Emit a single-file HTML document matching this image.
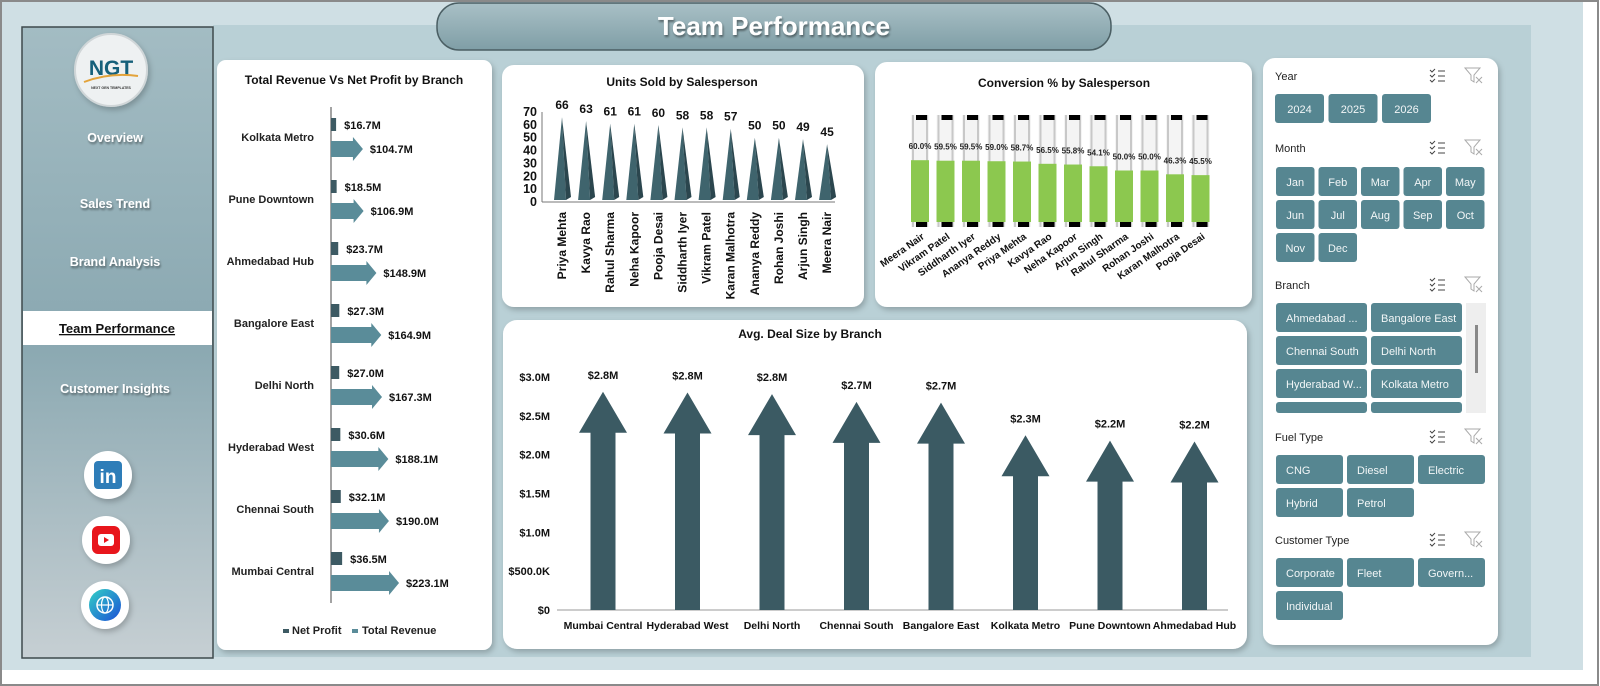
<!DOCTYPE html>
<html><head><meta charset="utf-8"><style>
html,body{margin:0;padding:0;width:1600px;height:686px;overflow:hidden;background:#fff}
svg{display:block;font-family:"Liberation Sans",sans-serif}
</style></head><body>
<svg id="root" width="1600" height="686" viewBox="0 0 1600 686" xmlns="http://www.w3.org/2000/svg">
<defs>
<filter id="sh" x="-10%" y="-10%" width="130%" height="130%"><feDropShadow dx="2" dy="3" stdDeviation="3" flood-color="#000" flood-opacity="0.22"/></filter>
<filter id="ts"><feDropShadow dx="1" dy="2" stdDeviation="1" flood-color="#000" flood-opacity="0.45"/></filter>
<linearGradient id="sb" x1="0" y1="0" x2="0" y2="1"><stop offset="0" stop-color="#a3bcc3"/><stop offset="0.5" stop-color="#8aa8b1"/><stop offset="1" stop-color="#c6cfd3"/></linearGradient>
<linearGradient id="tb" x1="0" y1="0" x2="0" y2="1"><stop offset="0" stop-color="#a9c0c6"/><stop offset="1" stop-color="#7f9ea6"/></linearGradient>
<linearGradient id="gl" x1="0" y1="0" x2="1" y2="1"><stop offset="0" stop-color="#33d1c6"/><stop offset="1" stop-color="#1b4fd6"/></linearGradient>
</defs>
<rect x="0" y="0" width="1600" height="686" fill="#fff"/>
<rect x="1" y="1" width="1597" height="684" fill="none" stroke="#8a8a8a" stroke-width="2"/>
<rect x="2" y="2" width="1581" height="668" fill="#cfdfe4"/>
<rect x="213" y="25" width="1318" height="632" fill="#b9d0d6"/>
<g>
<rect x="437" y="3" width="674" height="47" rx="22" fill="url(#tb)" stroke="#4b5f64" stroke-width="1.5"/>
<text x="774" y="35" text-anchor="middle" font-size="26" font-weight="bold" fill="#fff" filter="url(#ts)">Team Performance</text>
</g>
<g>
<rect x="22" y="27" width="191" height="631" fill="url(#sb)" stroke="#3f4a4d" stroke-width="1.5"/>
<g filter="url(#sh)">
<circle cx="111" cy="70" r="36" fill="#eef1f2" stroke="#d0d6d8" stroke-width="2"/>
<text x="111" y="75" text-anchor="middle" font-size="21" font-weight="bold" fill="#17607a">NGT</text>
<path d="M84 82 Q110 72 138 76" stroke="#e3a33b" stroke-width="2" fill="none"/>
<text x="111" y="89" text-anchor="middle" font-size="3.5" font-weight="bold" fill="#333">NEXT GEN TEMPLATES</text>
</g>
<text x="115" y="142" text-anchor="middle" font-size="12.5" font-weight="bold" fill="#fff" filter="url(#ts)">Overview</text>
<text x="115" y="208" text-anchor="middle" font-size="12.5" font-weight="bold" fill="#fff" filter="url(#ts)">Sales Trend</text>
<text x="115" y="266" text-anchor="middle" font-size="12.5" font-weight="bold" fill="#fff" filter="url(#ts)">Brand Analysis</text>
<rect x="23" y="311" width="189" height="34" fill="#fff"/>
<text x="117" y="333" text-anchor="middle" font-size="13" font-weight="bold" fill="#111" text-decoration="underline">Team Performance</text>
<text x="115" y="393" text-anchor="middle" font-size="12.5" font-weight="bold" fill="#fff" filter="url(#ts)">Customer Insights</text>
<g filter="url(#sh)"><circle cx="108" cy="475" r="24" fill="#fff"/><rect x="94" y="461" width="28" height="28" rx="4" fill="#2d7db8"/><text x="108" y="483" text-anchor="middle" font-size="19" font-weight="bold" fill="#fff">in</text></g>
<g filter="url(#sh)"><circle cx="106" cy="540" r="24" fill="#fff"/><rect x="92" y="526" width="28" height="28" rx="6" fill="#e8131b"/><rect x="98" y="534" width="16" height="12" rx="3" fill="#fff"/><path d="M104 537 L109 540 L104 543Z" fill="#e8131b"/></g>
<g filter="url(#sh)"><circle cx="105" cy="605" r="24" fill="#fff"/><circle cx="105" cy="605" r="16" fill="url(#gl)"/><circle cx="105" cy="605" r="8" fill="none" stroke="#fff" stroke-width="1.5"/><ellipse cx="105" cy="605" rx="3.5" ry="8" fill="none" stroke="#fff" stroke-width="1.2"/><line x1="97" y1="605" x2="113" y2="605" stroke="#fff" stroke-width="1.2"/></g>
</g>
<rect x="217" y="60" width="275" height="590" rx="9" fill="#fff" filter="url(#sh)"/>
<rect x="502" y="65" width="362" height="242" rx="12" fill="#fff" filter="url(#sh)"/>
<rect x="875" y="62" width="377" height="245" rx="12" fill="#fff" filter="url(#sh)"/>
<rect x="503" y="320" width="744" height="329" rx="14" fill="#fff" filter="url(#sh)"/>
<rect x="1263" y="58" width="235" height="587" rx="12" fill="#fff" filter="url(#sh)"/>
<text x="354" y="84" text-anchor="middle" font-size="12" font-weight="bold" fill="#111">Total Revenue Vs Net Profit by Branch</text>
<text x="682" y="86" text-anchor="middle" font-size="12" font-weight="bold" fill="#111">Units Sold by Salesperson</text>
<text x="1064" y="87" text-anchor="middle" font-size="12" font-weight="bold" fill="#111">Conversion % by Salesperson</text>
<text x="810" y="338" text-anchor="middle" font-size="12" font-weight="bold" fill="#111">Avg. Deal Size by Branch</text>
<g id="c1"></g><g id="c2"></g><g id="c3"></g><g id="c4"></g><g id="sl"></g>
</svg>
<script>
// Chart 1: Revenue vs Profit
const branches1 = ["Kolkata Metro","Pune Downtown","Ahmedabad Hub","Bangalore East","Delhi North","Hyderabad West","Chennai South","Mumbai Central"];
const netProfit = [16.7,18.5,23.7,27.3,27.0,30.6,32.1,36.5];
const totalRevenue = [104.7,106.9,148.9,164.9,167.3,188.1,190.0,223.1];
// Chart 2: Units sold
const people2 = ["Priya Mehta","Kavya Rao","Rahul Sharma","Neha Kapoor","Pooja Desai","Siddharth Iyer","Vikram Patel","Karan Malhotra","Ananya Reddy","Rohan Joshi","Arjun Singh","Meera Nair"];
const unitsSold = [66,63,61,61,60,58,58,57,50,50,49,45];
const unitTicks = [0,10,20,30,40,50,60,70];
// Chart 3: Conversion
const people3 = ["Meera Nair","Vikram Patel","Siddharth Iyer","Ananya Reddy","Priya Mehta","Kavya Rao","Neha Kapoor","Arjun Singh","Rahul Sharma","Rohan Joshi","Karan Malhotra","Pooja Desai"];
const conversion = [60.0,59.5,59.5,59.0,58.7,56.5,55.8,54.1,50.0,50.0,46.3,45.5];
// Chart 4: Avg deal
const branches4 = ["Mumbai Central","Hyderabad West","Delhi North","Chennai South","Bangalore East","Kolkata Metro","Pune Downtown","Ahmedabad Hub"];
const avgDeal = [2.81,2.80,2.78,2.68,2.67,2.25,2.18,2.17];
const dealTicks = [0,0.5,1.0,1.5,2.0,2.5,3.0];
const dealTickLabels = ["$0","$500.0K","$1.0M","$1.5M","$2.0M","$2.5M","$3.0M"];

const NS="http://www.w3.org/2000/svg";
function mk(p,tag,attrs,txt){const e=document.createElementNS(NS,tag);for(const k in attrs)e.setAttribute(k,attrs[k]);if(txt!==undefined)e.textContent=txt;p.appendChild(e);return e;}

(function(){
const g=document.getElementById('c1');
const x0=331, k=0.305, rowY=y=>137+y*62;
const xs=v=>x0+v*k;
mk(g,'line',{x1:x0,y1:107,x2:x0,y2:603,stroke:'#666','stroke-width':1.2});
branches1.forEach((b,i)=>{
 const cy=rowY(i);
 let t=mk(g,'text',{x:314,y:cy+4,'text-anchor':'end','font-size':11,'font-weight':'bold',fill:'#222'},b);
 
 
 let r=mk(g,'rect',{x:x0,y:cy-19,width:xs(netProfit[i])-x0,height:13,fill:'#3d5a63'});
 
 
 t=mk(g,'text',{x:xs(netProfit[i])+8,y:cy-8,'font-size':11,'font-weight':'bold',fill:'#111'},'$'+netProfit[i].toFixed(1)+'M');
 
 
 const xe=xs(totalRevenue[i]), ay=cy+12, hw=12, sw=8, hl=10;
 let a=mk(g,'path',{d:`M${x0} ${ay-sw} L${xe-hl} ${ay-sw} L${xe-hl} ${ay-hw} L${xe} ${ay} L${xe-hl} ${ay+hw} L${xe-hl} ${ay+sw} L${x0} ${ay+sw}Z`,fill:'#5a8c99'});
 
 
 t=mk(g,'text',{x:xe+7,y:ay+4,'font-size':11,'font-weight':'bold',fill:'#111'},'$'+totalRevenue[i].toFixed(1)+'M');
 
 
});
let l=mk(g,'rect',{x:283,y:629,width:6,height:4,fill:'#3d5a63'});


l=mk(g,'text',{x:292,y:634,'font-size':11,'font-weight':'bold',fill:'#222'},'Net Profit');


l=mk(g,'rect',{x:352,y:629,width:6,height:4,fill:'#5a8c99'});


l=mk(g,'text',{x:362,y:634,'font-size':11,'font-weight':'bold',fill:'#222'},'Total Revenue');


})();

(function(){
const g=document.getElementById('c2');
const y0=202, ky=90/70, ys=v=>y0-v*ky, xc=i=>562+i*24.1;
mk(g,'line',{x1:542,y1:ys(70),x2:542,y2:y0,stroke:'#777'});
mk(g,'line',{x1:542,y1:y0,x2:835,y2:y0,stroke:'#777'});
unitTicks.forEach(v=>{
 const t=mk(g,'text',{x:537,y:ys(v)+4,'text-anchor':'end','font-size':12.5,'font-weight':'bold',fill:'#111'},v);
 
 
});
people2.forEach((p,i)=>{
 const c=xc(i), top=ys(unitsSold[i]);
 const cone=mk(g,'g',{});
 
 
 mk(cone,'path',{d:`M${c-8} ${y0-2} L${c} ${top} L${c+4} ${y0-2}Z`,fill:'#3f646d'});
 mk(cone,'path',{d:`M${c+4} ${y0-2} L${c} ${top} L${c+9} ${y0-5}Z`,fill:'#2b464e'});
 let t=mk(g,'text',{x:c,y:top-8,'text-anchor':'middle','font-size':12,'font-weight':'bold',fill:'#111'},unitsSold[i]);
 
 
 t=mk(g,'text',{x:0,y:0,'text-anchor':'end','font-size':12,'font-weight':'bold',fill:'#111',transform:`translate(${c+4},${y0+10}) rotate(-90)`},p);
 
 
});
})();

(function(){
const g=document.getElementById('c3');
const yb=222, yt=119, ys=v=>yb-(yb-yt)*v/100, xc=i=>920+i*25.5;
people3.forEach((p,i)=>{
 const c=xc(i);
 const tube=mk(g,'g',{});
 
 
 mk(tube,'rect',{x:c-9,y:115,width:18,height:112,fill:'#f4f4f4'});
 mk(tube,'rect',{x:c-8,y:115,width:2,height:112,fill:'#c8c8c8'});
 mk(tube,'rect',{x:c+6,y:115,width:2,height:112,fill:'#c8c8c8'});
 mk(tube,'rect',{x:c-4,y:115,width:11,height:5,fill:'#000'});
 mk(tube,'rect',{x:c-4,y:222,width:11,height:5,fill:'#000'});
 const b=mk(g,'rect',{x:c-9,y:ys(conversion[i]),width:18,height:yb-ys(conversion[i]),fill:'#8cc84f'});
 
 
 let t=mk(g,'text',{x:c,y:ys(conversion[i])-11,'text-anchor':'middle','font-size':8,'font-weight':'bold',fill:'#222'},conversion[i].toFixed(1)+'%');
 
 
 t=mk(g,'text',{x:0,y:0,'text-anchor':'end','font-size':10,'font-weight':'bold',fill:'#111',transform:`translate(${c+5},${238}) rotate(-35)`},p);
 
 
});
})();

(function(){
const g=document.getElementById('c4');
const y0=610, ky=233/3, ys=v=>y0-v*ky, xc=i=>603+i*84.5;
mk(g,'line',{x1:557,y1:y0,x2:1228,y2:y0,stroke:'#999'});
dealTicks.forEach((v,i)=>{
 const t=mk(g,'text',{x:550,y:ys(v)+4,'text-anchor':'end','font-size':11,'font-weight':'bold',fill:'#111'},dealTickLabels[i]);
 
 
});
branches4.forEach((b,i)=>{
 const c=xc(i), top=ys(avgDeal[i]);
 const a=mk(g,'path',{d:`M${c-12.5} ${y0} L${c-12.5} ${top+41} L${c-24} ${top+41} L${c} ${top} L${c+24} ${top+41} L${c+12.5} ${top+41} L${c+12.5} ${y0}Z`,fill:'#3b5a63'});
 
 
 let t=mk(g,'text',{x:c,y:top-13,'text-anchor':'middle','font-size':11,'font-weight':'bold',fill:'#111'},'$'+avgDeal[i].toFixed(1)+'M');
 
 
 t=mk(g,'text',{x:c,y:629,'text-anchor':'middle','font-size':10.5,'font-weight':'bold',fill:'#111'},b);
 
 
});
})();

(function(){
const g=document.getElementById('sl');
const F='#568691';
function header(label,y,name){
 let t=mk(g,'text',{x:1275,y:y,'font-size':11,fill:'#222'},label);
 
 
 const ic=mk(g,'g',{stroke:'#444','stroke-width':1,fill:'none'});
 
 
 for(let j=0;j<3;j++){const yy=y-10+j*5;mk(ic,'path',{d:`M1430 ${yy} l2 2 l3 -3`});mk(ic,'line',{x1:1438,y1:yy+1,x2:1445,y2:yy+1});}
 const fi=mk(g,'path',{d:`M1465 ${y-12} h15 l-6 7 v7 l-3 -2 v-5Z M1476 ${y-3} l6 6 M1482 ${y-3} l-6 6`,stroke:'#aaa',fill:'none','stroke-width':1});
 
 
}
function btn(x,y,w,label,name){
 const r=mk(g,'rect',{x:x,y:y,width:w,height:29,rx:3,fill:F});
 
 
 const t=mk(g,'text',{x:x+(w<45?w/2:10),y:y+19,'text-anchor':w<45?'middle':'start','font-size':11,fill:'#f2f6f7'},label);
 if(w>=45&&w<=55){t.setAttribute('x',x+w/2);t.setAttribute('text-anchor','middle');}
}
header('Year',80,'year');
['2024','2025','2026'].forEach((y,i)=>btn(1275+i*53.5,94,49,y,'year-button'));
header('Month',152,'month');
['Jan','Feb','Mar','Apr','May','Jun','Jul','Aug','Sep','Oct','Nov','Dec'].forEach((m,i)=>btn(1276+(i%5)*42.5,167+Math.floor(i/5)*33,38.5,m,'month-button'));
header('Branch',289,'branch');
['Ahmedabad ...','Bangalore East','Chennai South','Delhi North','Hyderabad W...','Kolkata Metro','',''].forEach((b,i)=>{
 const y=303+Math.floor(i/2)*33;
 if(i<6) btn(1276+(i%2)*95,y,91,b,'branch-button');
 else {const r=mk(g,'rect',{x:1276+(i%2)*95,y:402,width:91,height:11,rx:3,fill:F});}
});
let s=mk(g,'rect',{x:1466,y:303,width:20,height:110,fill:'#eeeeee'});


s=mk(g,'rect',{x:1475,y:325,width:3,height:48,fill:'#888'});


header('Fuel Type',441,'fuel-type');
['CNG','Diesel','Electric','Hybrid','Petrol'].forEach((f,i)=>btn(1276+(i%3)*71,455+Math.floor(i/3)*33,67,f,'fuel-type-button'));
header('Customer Type',544,'customer-type');
['Corporate','Fleet','Govern...','Individual'].forEach((f,i)=>btn(1276+(i%3)*71,558+Math.floor(i/3)*33,67,f,'customer-type-button'));
})();
</script>
</body></html>
